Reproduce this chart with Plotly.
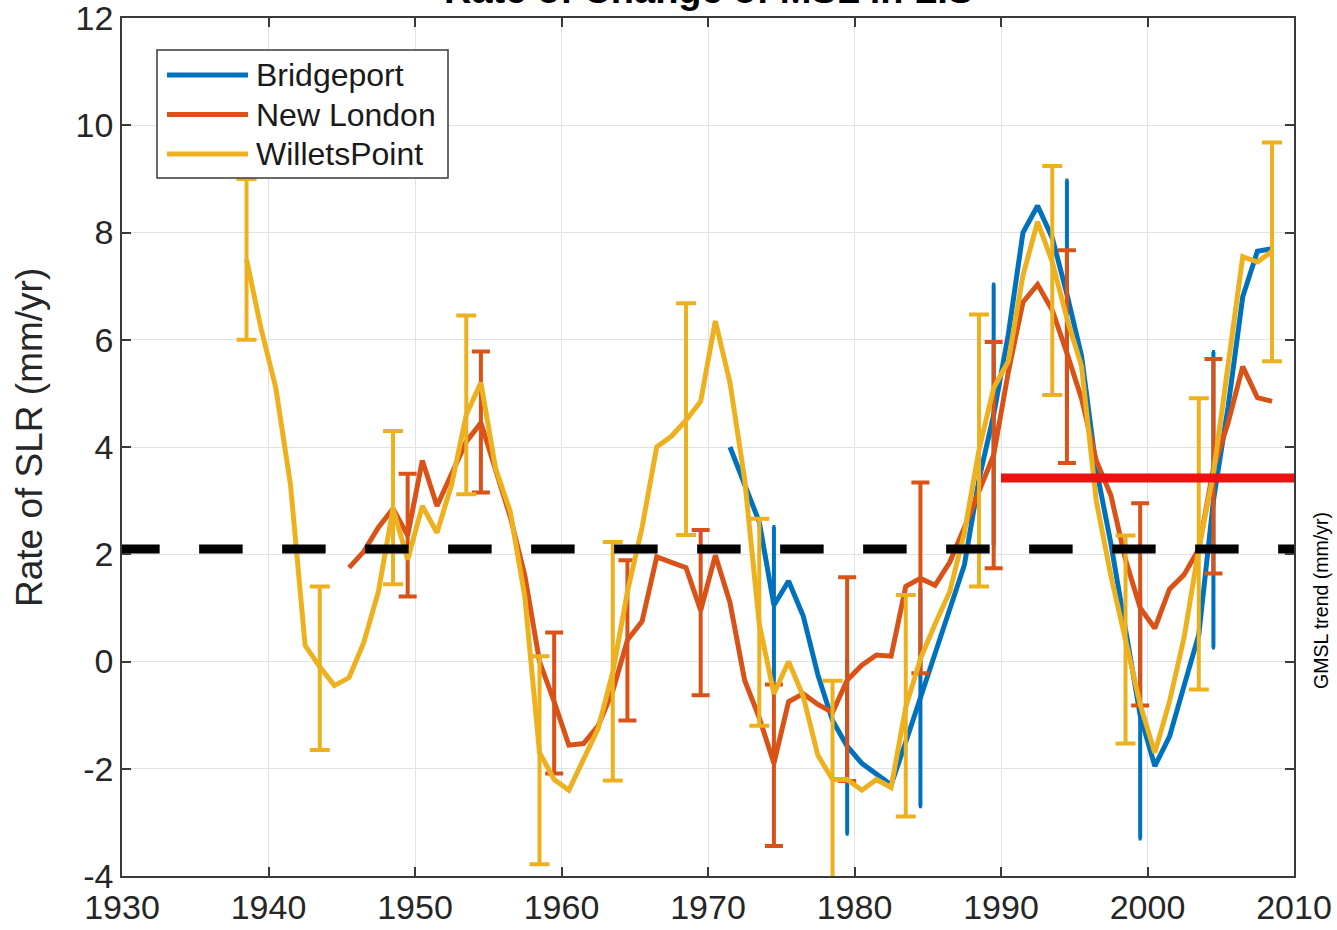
import plotly.graph_objects as go

# ---- series: annual rate of sea level rise (mm/yr), plotted at mid-year ----
series_names = ["Bridgeport", "New London", "WilletsPoint"]
series_colors = ["#0072BD", "#D95319", "#EDB120"]

bp_years = list(range(1971, 2009))
bp_rate = [4.0, 3.3, 2.6, 1.05, 1.5, 0.85, -0.25, -1.1, -1.58, -1.9,
           -2.1, -2.3, -1.5, -0.67, 0.1, 0.95, 1.8, 3.4, 4.6, 6.1,
           8.0, 8.5, 7.9, 6.85, 5.7, 3.6, 2.2, 0.6, -1.0, -1.95,
           -1.4, -0.45, 0.5, 3.0, 4.75, 6.8, 7.65, 7.7]
bp_err_years = [1974, 1979, 1984, 1989, 1994, 1999, 2004]
bp_err_hi = [2.51, 0.05, 1.36, 7.03, 8.97, 1.3, 5.77]
bp_err_lo = [-0.37, -3.21, -2.7, 2.17, 4.73, -3.3, 0.26]

nl_years = list(range(1945, 2009))
nl_rate = [1.75, 2.05, 2.5, 2.85, 2.35, 3.75, 2.9, 3.5, 4.1, 4.45,
           3.55, 2.7, 1.6, 0.0, -0.75, -1.56, -1.53, -1.2, -0.55, 0.4,
           0.75, 1.95, 1.85, 1.75, 0.95, 1.98, 1.1, -0.35, -1.05, -1.9,
           -0.75, -0.6, -0.8, -0.95, -0.35, -0.07, 0.12, 0.1, 1.4, 1.55,
           1.42, 1.85, 2.5, 3.2, 3.85, 5.4, 6.7, 7.03, 6.55, 5.75,
           4.9, 3.75, 3.1, 1.9, 1.0, 0.62, 1.35, 1.62, 2.1, 3.6,
           4.45, 5.5, 4.92, 4.85]
nl_err_years = [1949, 1954, 1959, 1964, 1969, 1974, 1979, 1984, 1989, 1994, 1999, 2004]
nl_err_hi = [3.5, 5.78, 0.54, 1.89, 2.45, -0.43, 1.57, 3.34, 5.96, 7.67, 2.95, 5.64]
nl_err_lo = [1.21, 3.15, -2.09, -1.1, -0.63, -3.44, -2.23, -0.22, 1.74, 3.7, -0.82, 1.64]

wp_years = list(range(1938, 2009))
wp_rate = [7.5, 6.2, 5.1, 3.3, 0.3, -0.1, -0.45, -0.3, 0.35, 1.3,
           2.85, 1.9, 2.9, 2.4, 3.3, 4.6, 5.2, 3.6, 2.8, 1.2,
           -1.7, -2.2, -2.4, -1.8, -1.25, -0.2, 1.3, 2.5, 4.0, 4.2,
           4.5, 4.85, 6.35, 5.2, 3.4, 0.7, -0.6, 0.0, -0.65, -1.75,
           -2.2, -2.2, -2.4, -2.2, -2.35, -0.85, 0.05, 0.7, 1.3, 2.4,
           3.95, 5.1, 5.6, 7.2, 8.2, 7.45, 6.4, 5.5, 3.0, 1.6,
           0.35, -0.8, -1.7, -0.75, 0.45, 2.1, 3.5, 5.6, 7.55, 7.45,
           7.65]
wp_err_years = [1938, 1943, 1948, 1953, 1958, 1963, 1968, 1973, 1978, 1983,
                1988, 1993, 1998, 2003, 2008]
wp_err_hi = [9.0, 1.4, 4.3, 6.45, 0.1, 2.23, 6.68, 2.66, -0.36, 1.24,
             6.47, 9.24, 2.35, 4.91, 9.68]
wp_err_lo = [6.0, -1.65, 1.44, 3.12, -3.78, -2.22, 2.36, -1.2, -4.1, -2.89,
             1.4, 4.97, -1.53, -0.52, 5.6]

# reference trends (mm/yr)
gmsl_trend = 2.1
gmsl_span = [1929.6, 2010]
lis_trend = 3.42
lis_span = [1990, 2010]

x_ticks = [1930, 1940, 1950, 1960, 1970, 1980, 1990, 2000, 2010]
y_ticks = [-4, -2, 0, 2, 4, 6, 8, 10, 12]

MID = 0.5
FONT = "Liberation Sans, Arial, Helvetica, sans-serif"
INK = "#262626"

# plot-area geometry in pixels
W, H = 1337, 930
L, R, T, B = 122, 43, 18, 54
PW, PH = W - L - R, H - T - B


def px_x(px):
    return (px - L) / PW


def px_y(py):
    return (H - B - py) / PH


series = [
    (bp_years, bp_rate, bp_err_years, bp_err_hi, bp_err_lo, 1.5),
    (nl_years, nl_rate, nl_err_years, nl_err_hi, nl_err_lo, 9),
    (wp_years, wp_rate, wp_err_years, wp_err_hi, wp_err_lo, 10),
]

fig = go.Figure()

for (yrs, vals, eyrs, ehi, elo, cap), name, color in zip(series, series_names, series_colors):
    lookup = dict(zip(yrs, vals))
    centers = [lookup[y] for y in eyrs]
    fig.add_trace(go.Scatter(
        x=[y + MID for y in eyrs], y=centers, mode="markers",
        marker=dict(size=1, opacity=0, color=color),
        error_y=dict(type="data", symmetric=False,
                     array=[h - c for h, c in zip(ehi, centers)],
                     arrayminus=[c - lo for c, lo in zip(centers, elo)],
                     color=color, thickness=4, width=cap),
        showlegend=False, hoverinfo="skip"))
    fig.add_trace(go.Scatter(
        x=[y + MID for y in yrs], y=vals, mode="lines", name=name,
        line=dict(color=color, width=5), showlegend=False))

fig.add_trace(go.Scatter(
    x=gmsl_span, y=[gmsl_trend, gmsl_trend], mode="lines",
    line=dict(color="black", width=9, dash="43.5px,39.5px"),
    showlegend=False, hoverinfo="skip"))
fig.add_trace(go.Scatter(
    x=lis_span, y=[lis_trend, lis_trend], mode="lines",
    line=dict(color="#EE1111", width=9),
    showlegend=False, hoverinfo="skip"))

axis_common = dict(
    showgrid=True, gridcolor="#e2e2e2", gridwidth=1,
    showline=True, linecolor="#3a3a3a", linewidth=1.5, mirror="ticks",
    ticks="inside", ticklen=9, tickwidth=1.5, tickcolor="#3a3a3a",
    tickfont=dict(family=FONT, size=34, color=INK),
    ticklabeloverflow="allow",
    zeroline=False, automargin=False,
)

fig.update_layout(
    width=W, height=H, template="none",
    margin=dict(l=L, r=R, t=T, b=B, pad=0),
    paper_bgcolor="white", plot_bgcolor="white",
    showlegend=False,
    xaxis=dict(range=[1930, 2010], tickvals=x_ticks,
               ticktext=[str(v) for v in x_ticks], **axis_common),
    yaxis=dict(range=[-4, 12], tickvals=y_ticks,
               ticktext=[str(v) for v in y_ticks], **axis_common),
)

# legend box drawn over the data, as in the original axes
shapes = [dict(type="rect", xref="paper", yref="paper",
               x0=px_x(157), x1=px_x(448), y0=px_y(178), y1=px_y(50),
               line=dict(color="#3a3a3a", width=1.5), fillcolor="white", layer="above")]
annotations = []
for i, (name, color) in enumerate(zip(series_names, series_colors)):
    ry = 75 + i * 39.5
    shapes.append(dict(type="line", xref="paper", yref="paper",
                       x0=px_x(167), x1=px_x(248), y0=px_y(ry), y1=px_y(ry),
                       line=dict(color=color, width=5), layer="above"))
    annotations.append(dict(xref="paper", yref="paper", x=px_x(254), y=px_y(ry),
                            xanchor="left", yanchor="middle", showarrow=False,
                            text=name, font=dict(family=FONT, size=32, color="#1a1a1a")))

annotations += [
    dict(xref="paper", yref="paper", x=0.5, y=1.0058, xanchor="center", yanchor="bottom",
         showarrow=False, text="<b>Rate of Change of MSL in LIS</b>",
         font=dict(family=FONT, size=38, color="black")),
    dict(xref="paper", yref="paper", x=px_x(30), y=px_y(438), xanchor="center",
         yanchor="middle", textangle=-90, showarrow=False,
         text="Rate of SLR (mm/yr)", font=dict(family=FONT, size=37, color=INK)),
    dict(xref="paper", yref="paper", x=px_x(1321), y=px_y(601), xanchor="center",
         yanchor="middle", textangle=-90, showarrow=False,
         text="GMSL trend (mm/yr)", font=dict(family=FONT, size=19.5, color="black")),
]
fig.update_layout(shapes=shapes, annotations=annotations)

fig.write_html("out.html")
